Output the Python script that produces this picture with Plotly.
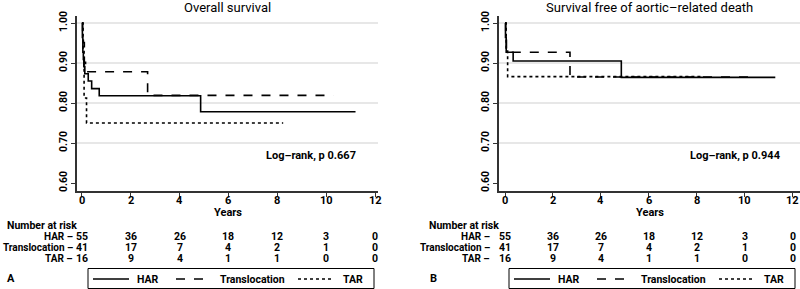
import plotly.graph_objects as go

W, H = 800, 289

# ---------------- data ----------------
groups = ["HAR", "Translocation", "TAR"]
dashes = ["solid", "dash", "dot"]

# Overall survival (panel A)
os_har_t = [0, 0.02, 0.04, 0.06, 0.08, 0.12, 0.26, 0.40, 0.71, 4.86, 11.2]
os_har_s = [1.0, 0.964, 0.927, 0.909, 0.891, 0.873, 0.855, 0.836, 0.818, 0.778, 0.778]
os_trans_t = [0, 0.03, 0.06, 0.10, 0.15, 2.69, 10.3]
os_trans_s = [1.0, 0.976, 0.951, 0.902, 0.878, 0.819, 0.819]
os_tar_t = [0, 0.05, 0.09, 0.19, 8.24]
os_tar_s = [1.0, 0.9375, 0.8125, 0.75, 0.75]

# Survival free of aortic-related death (panel B)
ad_har_t = [0, 0.02, 0.05, 0.34, 4.85, 11.27]
ad_har_s = [1.0, 0.964, 0.927, 0.905, 0.864, 0.864]
ad_trans_t = [0, 0.03, 0.06, 2.71, 10.3]
ad_trans_s = [1.0, 0.976, 0.927, 0.865, 0.865]
ad_tar_t = [0, 0.05, 0.11, 8.2]
ad_tar_s = [1.0, 0.9375, 0.866, 0.866]

# Number at risk
risk_times = [0, 2, 4, 6, 8, 10, 12]
risk_har = [55, 36, 26, 18, 12, 3, 0]
risk_trans = [41, 17, 7, 4, 2, 1, 0]
risk_tar = [16, 9, 4, 1, 1, 0, 0]

y_ticks = [0.60, 0.70, 0.80, 0.90, 1.00]
y_grid = [0.70, 0.80, 0.90, 1.00]
x_ticks = [0, 2, 4, 6, 8, 10, 12]

titles = ["Overall survival", "Survival free of aortic\u2013related death"]
pvals = ["Log\u2013rank, p 0.667", "Log\u2013rank, p 0.944"]
panel_letters = ["A", "B"]

# ---------------- layout helpers ----------------
def px(x):
    return x / W

def py(y):
    return 1 - y / H

FONT = "Roboto"
fig = go.Figure()

# legend layout offsets relative to the box left edge: (line start, line end, text start)
leg_offsets = [(5, 41, 47), (88, 124, 130), (210, 245, 253)]
LEG_W = 286

panels = [
    dict(xa="x", ya="y", xdom=(77, 378), xr=[-0.2, 12.12],
         series=[(os_har_t, os_har_s), (os_trans_t, os_trans_s), (os_tar_t, os_tar_s)],
         nar_x=6, lab_x=74, sep="\u00a0\u2013", p_x=311, letter_x=5, box_x=88),
    dict(xa="x2", ya="y2", xdom=(499, 800), xr=[-0.25, 12.3],
         series=[(ad_har_t, ad_har_s), (ad_trans_t, ad_trans_s), (ad_tar_t, ad_tar_s)],
         nar_x=428, lab_x=491, sep="\u00a0\u2013", p_x=735, letter_x=428, box_x=509),
]

ydom = (py(191), py(16))
yr = [0.58, 1.0175]

annotations = []
shapes = []
bold = dict(family=FONT, size=11, color="black", weight="bold")
tbl = dict(family=FONT, size=10.5, color="black", weight="bold")
lab = dict(family=FONT, size=10, color="black", weight="bold")
for i, p in enumerate(panels):
    for g, d, (t, s) in zip(groups, dashes, p["series"]):
        fig.add_trace(go.Scatter(
            x=t, y=s, mode="lines", line=dict(color="black", width=1.6, dash=d, shape="hv"),
            name=g, xaxis=p["xa"], yaxis=p["ya"], showlegend=False,
        ))
    axkey = "xaxis" if i == 0 else "xaxis2"
    aykey = "yaxis" if i == 0 else "yaxis2"
    fig.layout[axkey] = dict(
        domain=[px(p["xdom"][0]), px(p["xdom"][1])], range=p["xr"], anchor=p["ya"],
        tickvals=x_ticks, ticks="outside", ticklen=4, tickcolor="#333", tickwidth=1.2,
        showline=True, linecolor="#333", linewidth=1.5, showgrid=False, zeroline=False,
        showticklabels=False, automargin=False,
    )
    # x tick labels placed on the axis scale (so the edge label is never dropped)
    for tv in x_ticks:
        annotations.append(dict(text=str(tv), x=tv, y=py(200.5), xref=p["xa"], yref="paper",
                                xanchor="center", yanchor="middle", showarrow=False,
                                font=bold, borderpad=0))
    fig.layout[aykey] = dict(
        domain=list(ydom), range=yr, anchor=p["xa"],
        tickvals=y_ticks, ticktext=[f"{v:.2f}" for v in y_ticks], tickangle=-90,
        ticks="outside", ticklen=4, tickcolor="#333", tickwidth=1.2,
        showline=True, linecolor="#333", linewidth=1.5, showgrid=False, zeroline=False,
        tickfont=dict(family=FONT, size=10.5, color="black", weight="bold"),
        automargin=False,
    )
    for g in y_grid:
        shapes.append(dict(type="line", xref=f"{p['xa']} domain", yref=p["ya"], x0=0, x1=1,
                           y0=g, y1=g, line=dict(color="#cfcfcf", width=1), layer="below"))
    cx = (p["xdom"][0] + p["xdom"][1]) / 2
    annotations.append(dict(text=titles[i], x=px(cx), y=py(8), xref="paper", yref="paper",
                            xanchor="center", yanchor="middle", showarrow=False,
                            font=dict(family=FONT, size=13, color="black")))
    annotations.append(dict(text="Years", x=px(cx), y=py(212), xref="paper", yref="paper",
                            xanchor="center", yanchor="middle", showarrow=False, font=bold,
                            borderpad=0))
    annotations.append(dict(text=pvals[i], x=px(p["p_x"]), y=py(155), xref="paper", yref="paper",
                            xanchor="center", yanchor="middle", showarrow=False, font=bold))
    annotations.append(dict(text="Number at risk", x=px(p["nar_x"]), y=py(225), xref="paper",
                            yref="paper", xanchor="left", yanchor="middle", showarrow=False,
                            font=tbl, borderpad=0))
    for row_y, g, vals in zip([236, 247, 258], groups, [risk_har, risk_trans, risk_tar]):
        annotations.append(dict(text=g + p["sep"], x=px(p["lab_x"]), y=py(row_y), xref="paper",
                                yref="paper", xanchor="right", yanchor="middle",
                                showarrow=False, font=lab, borderpad=0))
        for tt, v in zip(risk_times, vals):
            annotations.append(dict(text=str(v), x=tt, y=py(row_y), xref=p["xa"], yref="paper",
                                    xanchor="center", yanchor="middle", showarrow=False,
                                    font=tbl, borderpad=0))
    annotations.append(dict(text=panel_letters[i], x=px(p["letter_x"]), y=py(278), xref="paper",
                            yref="paper", xanchor="left", yanchor="middle", showarrow=False,
                            font=bold))
    # legend box (drawn)
    bx = p["box_x"]
    shapes.append(dict(type="rect", xref="paper", yref="paper", x0=px(bx),
                       x1=px(bx + LEG_W), y0=py(288.5), y1=py(268.5),
                       line=dict(color="black", width=1), fillcolor="white"))
    for (s0, s1, tx), g, d in zip(leg_offsets, groups, dashes):
        shapes.append(dict(type="line", xref="paper", yref="paper", x0=px(bx + s0),
                           x1=px(bx + s1), y0=py(279), y1=py(279),
                           line=dict(color="black", width=1.4, dash=d)))
        annotations.append(dict(text=g, x=px(bx + tx), y=py(279), xref="paper", yref="paper",
                                xanchor="left", yanchor="middle", showarrow=False, font=tbl))

fig.update_layout(
    width=W, height=H, margin=dict(l=0, r=0, t=0, b=0, autoexpand=False),
    paper_bgcolor="white", plot_bgcolor="white",
    annotations=annotations, shapes=shapes, showlegend=False,
    font=dict(family=FONT),
)

fig.write_html("out.html", config={"displayModeBar": False},
               post_script="document.body.style.margin='0px';")
